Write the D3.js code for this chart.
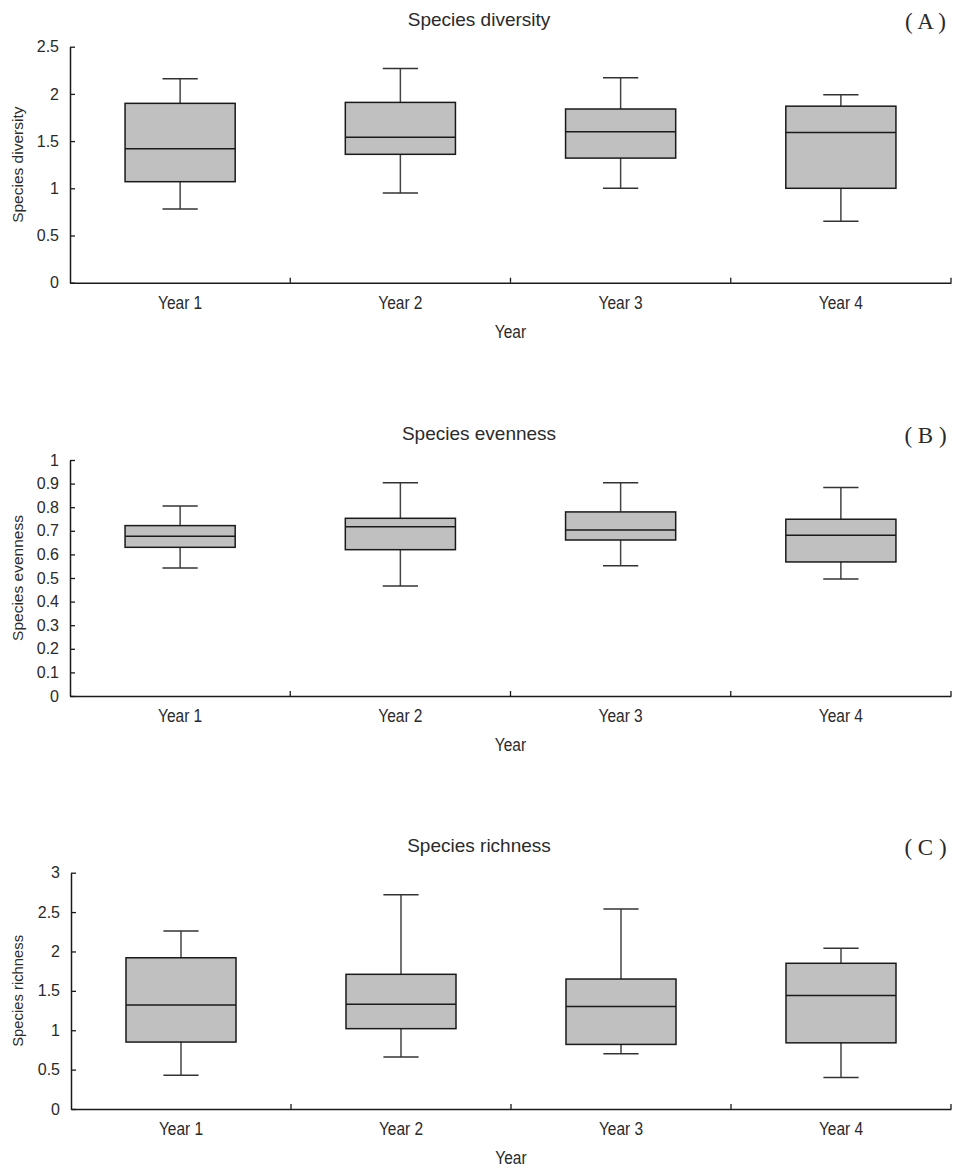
<!DOCTYPE html>
<html>
<head>
<meta charset="utf-8">
<script src="https://cdn.jsdelivr.net/npm/d3@7"></script>
<style>
  html, body { margin: 0; padding: 0; background: #fff; }
  svg { display: block; }
  text { font-family: "Liberation Sans", Arial, sans-serif; fill: #2a2a2a; }
</style>
</head>
<body>
<svg id="chart" width="960" height="1174"></svg>
<script>
// ---- Data ----
const categories = ["Year 1", "Year 2", "Year 3", "Year 4"];

// [min, Q1, median, Q3, max]
const diversityStats = [
  [0.78, 1.07, 1.42, 1.90, 2.16],
  [0.95, 1.36, 1.54, 1.91, 2.27],
  [1.00, 1.32, 1.60, 1.84, 2.17],
  [0.65, 1.00, 1.59, 1.87, 1.99]
];
const evennessStats = [
  [0.542, 0.630, 0.677, 0.722, 0.805],
  [0.466, 0.620, 0.717, 0.753, 0.904],
  [0.552, 0.661, 0.703, 0.780, 0.904],
  [0.496, 0.568, 0.681, 0.749, 0.883]
];
const richnessStats = [
  [0.43, 0.85, 1.32, 1.92, 2.26],
  [0.66, 1.02, 1.33, 1.71, 2.72],
  [0.70, 0.82, 1.30, 1.65, 2.54],
  [0.40, 0.84, 1.44, 1.85, 2.04]
];

const diversityTicks = [0, 0.5, 1, 1.5, 2, 2.5];
const evennessTicks = [0, 0.1, 0.2, 0.3, 0.4, 0.5, 0.6, 0.7, 0.8, 0.9, 1];
const richnessTicks = [0, 0.5, 1, 1.5, 2, 2.5, 3];

const panelTitles = ["Species diversity", "Species evenness", "Species richness"];
const panelYTitles = ["Species diversity", "Species evenness", "Species richness"];
const panelLetters = ["( A )", "( B )", "( C )"];
const xTitle = "Year";

// ---- Layout ----
const svg = d3.select("#chart");
const panels = [
  { stats: diversityStats, ticks: diversityTicks, max: 2.5, top: 46.7, bottom: 282.7, left: 70, yTitleSize: 15.5 },
  { stats: evennessStats, ticks: evennessTicks, max: 1, top: 460, bottom: 696, left: 70, yTitleSize: 15.5 },
  { stats: richnessStats, ticks: richnessTicks, max: 3, top: 872.7, bottom: 1109, left: 71, yTitleSize: 14.8 }
];
const right = 951;
const stretch = 1.14;

panels.forEach((p, i) => {
  const g = svg.append("g");
  const x = d3.scaleBand().domain(categories).range([p.left, right]).padding(0);
  const y = d3.scaleLinear().domain([0, p.max]).range([p.bottom, p.top]);
  const bw = x.bandwidth();
  const boxW = bw * 0.5;
  const capW = bw * 0.16;

  // y axis
  const yAxis = d3.axisLeft(y).tickValues(p.ticks).tickSizeInner(-5).tickSizeOuter(0).tickPadding(11)
    .tickFormat(d => d3.format("")(d));
  const ya = g.append("g").attr("transform", `translate(${p.left},0)`).call(yAxis);
  ya.select(".domain").attr("stroke", "#1a1a1a").attr("stroke-width", 1.5);
  ya.selectAll(".tick line").attr("stroke", "#1a1a1a").attr("stroke-width", 1.3);
  ya.selectAll(".tick text").style("font-size", "16px").attr("fill", "#2a2a2a")
    .style("font-family", "'Liberation Sans', Arial, sans-serif");

  // x axis (labels only)
  const xAxis = d3.axisBottom(x).tickSize(0).tickPadding(11.7);
  const xa = g.append("g").attr("transform", `translate(0,${p.bottom})`).call(xAxis);
  xa.select(".domain").attr("stroke", "#1a1a1a").attr("stroke-width", 1.5);
  xa.selectAll(".tick text").style("font-size", "15.5px").attr("fill", "#2a2a2a")
    .style("font-family", "'Liberation Sans', Arial, sans-serif")
    .attr("transform", `scale(1,${stretch})`);

  // category boundary ticks (pointing inward)
  g.selectAll(".bt").data(categories).join("line")
    .attr("x1", d => x(d) + bw).attr("x2", d => x(d) + bw)
    .attr("y1", p.bottom).attr("y2", p.bottom - 5)
    .attr("stroke", "#1a1a1a").attr("stroke-width", 1.3);

  // boxes
  const boxes = g.selectAll(".box").data(p.stats).join("g")
    .attr("transform", (d, j) => `translate(${x(categories[j]) + bw / 2},0)`);
  // whiskers
  boxes.append("line").attr("x1", 0).attr("x2", 0)
    .attr("y1", d => y(d[4])).attr("y2", d => y(d[3]))
    .attr("stroke", "#444").attr("stroke-width", 1.5);
  boxes.append("line").attr("x1", 0).attr("x2", 0)
    .attr("y1", d => y(d[1])).attr("y2", d => y(d[0]))
    .attr("stroke", "#444").attr("stroke-width", 1.5);
  boxes.append("line").attr("x1", -capW / 2).attr("x2", capW / 2)
    .attr("y1", d => y(d[4])).attr("y2", d => y(d[4]))
    .attr("stroke", "#333").attr("stroke-width", 1.5);
  boxes.append("line").attr("x1", -capW / 2).attr("x2", capW / 2)
    .attr("y1", d => y(d[0])).attr("y2", d => y(d[0]))
    .attr("stroke", "#333").attr("stroke-width", 1.5);
  boxes.append("rect")
    .attr("x", -boxW / 2).attr("width", boxW)
    .attr("y", d => y(d[3])).attr("height", d => y(d[1]) - y(d[3]))
    .attr("fill", "#c0c0c0").attr("stroke", "#1a1a1a").attr("stroke-width", 1.5);
  boxes.append("line").attr("x1", -boxW / 2).attr("x2", boxW / 2)
    .attr("y1", d => y(d[2])).attr("y2", d => y(d[2]))
    .attr("stroke", "#1a1a1a").attr("stroke-width", 1.5);

  // title
  g.append("text").attr("x", 479).attr("y", p.top - 20.5)
    .attr("text-anchor", "middle").style("font-size", "19px").text(panelTitles[i]);
  // panel letter
  g.append("text").attr("x", 925.5).attr("y", p.top - 17.5)
    .attr("text-anchor", "middle")
    .style("font-family", "'Liberation Serif', 'DejaVu Serif', serif")
    .style("font-size", "23px").text(panelLetters[i]);
  // x title
  g.append("text")
    .attr("transform", `translate(${(p.left + right) / 2},${p.bottom + 55}) scale(1,${stretch})`)
    .attr("text-anchor", "middle").style("font-size", "15.5px").text(xTitle);
  // y title
  g.append("text")
    .attr("transform", `translate(23,${(p.top + p.bottom) / 2}) rotate(-90)`)
    .attr("text-anchor", "middle").style("font-size", p.yTitleSize + "px").text(panelYTitles[i]);
});
</script>
</body>
</html>
